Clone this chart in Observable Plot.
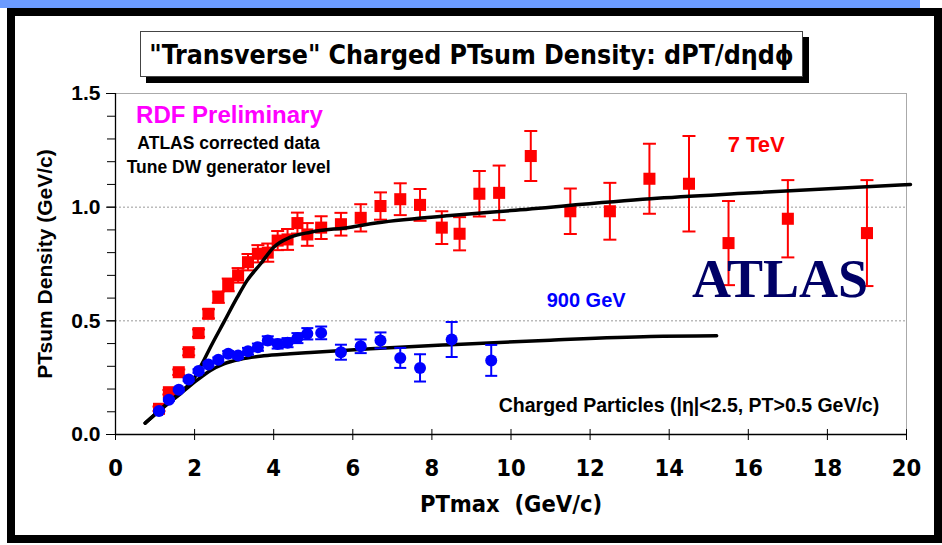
<!DOCTYPE html>
<html><head><meta charset="utf-8">
<script src="https://cdn.jsdelivr.net/npm/d3@7"></script>
<script src="https://cdn.jsdelivr.net/npm/@observablehq/plot@0.6"></script>
<style>
body{margin:0;background:#fff;}
#wrap{position:relative;width:942px;height:545px;overflow:hidden;background:#fff;}
#band{position:absolute;left:0;top:0;width:920px;height:8px;background:#6b9bff;}
#frame{position:absolute;left:7px;top:8px;width:935px;height:535px;border:8px solid #000;box-sizing:border-box;}
#chart{position:absolute;left:0;top:0;}
#title{position:absolute;left:140px;top:31px;width:663px;height:46px;box-sizing:border-box;border:1px solid #444;background:#fff;box-shadow:6px 6px 0 #000;font:bold 26.5px "Liberation Sans Narrow","Arial Narrow","DejaVu Sans Condensed",sans-serif;display:flex;align-items:center;justify-content:center;white-space:nowrap;}
</style></head>
<body><div id="wrap"><div id="band"></div><div id="frame"></div><div id="chart"></div><div id="title">"Transverse" Charged PTsum Density: dPT/dηdϕ</div></div>
<script>
// ---- data ----
const xTicks = [0, 2, 4, 6, 8, 10, 12, 14, 16, 18, 20];
const yTicks = [0, 0.5, 1.0, 1.5];
const yMinorTicks = [0, 0.1, 0.2, 0.3, 0.4, 0.5, 0.6, 0.7, 0.8, 0.9, 1.0, 1.1, 1.2, 1.3, 1.4, 1.5];
const gridY = [0.5, 1.0];

// 7 TeV data (red squares)
const tev7X   = [1.1, 1.35, 1.6, 1.85, 2.1, 2.35, 2.6, 2.85, 3.1, 3.35, 3.6, 3.85, 4.1, 4.35, 4.6, 4.85, 5.2, 5.7, 6.2, 6.7, 7.2, 7.7, 8.25, 8.7, 9.2, 9.7, 10.5, 11.5, 12.5, 13.5, 14.5, 15.5, 17, 19];
const tev7Y   = [0.113, 0.186, 0.274, 0.362, 0.446, 0.531, 0.604, 0.658, 0.70, 0.758, 0.795, 0.80, 0.853, 0.858, 0.93, 0.88, 0.91, 0.925, 0.953, 1.005, 1.035, 1.01, 0.91, 0.883, 1.059, 1.063, 1.225, 0.982, 0.982, 1.125, 1.103, 0.842, 0.949, 0.886];
const tev7Err = [0.01, 0.01, 0.012, 0.014, 0.016, 0.02, 0.025, 0.028, 0.032, 0.036, 0.038, 0.04, 0.042, 0.046, 0.046, 0.05, 0.05, 0.05, 0.06, 0.06, 0.07, 0.07, 0.072, 0.073, 0.10, 0.12, 0.11, 0.10, 0.125, 0.154, 0.21, 0.185, 0.17, 0.233];

// 900 GeV data (blue circles)
const gev900X   = [1.1, 1.35, 1.6, 1.85, 2.1, 2.35, 2.6, 2.85, 3.1, 3.35, 3.6, 3.85, 4.1, 4.35, 4.6, 4.85, 5.2, 5.7, 6.2, 6.7, 7.2, 7.7, 8.5, 9.5];
const gev900Y   = [0.103, 0.153, 0.197, 0.242, 0.279, 0.308, 0.329, 0.355, 0.348, 0.366, 0.384, 0.414, 0.398, 0.404, 0.424, 0.443, 0.447, 0.362, 0.388, 0.414, 0.337, 0.293, 0.418, 0.326];
const gev900Err = [0.004, 0.005, 0.006, 0.007, 0.008, 0.009, 0.01, 0.012, 0.013, 0.015, 0.016, 0.018, 0.02, 0.02, 0.022, 0.025, 0.028, 0.033, 0.03, 0.035, 0.044, 0.06, 0.077, 0.068];

// Tune DW curves
const dw7X = [0.75, 1.2, 1.6, 2.0, 2.2, 2.4, 2.74, 3.08, 3.33, 3.67, 4.0, 4.42, 4.93, 5.94, 6.45, 8.47, 10, 13.53, 16, 20.1];
const dw7Y = [0.05, 0.12, 0.18, 0.25, 0.315, 0.384, 0.494, 0.604, 0.678, 0.751, 0.824, 0.868, 0.89, 0.912, 0.927, 0.963, 0.985, 1.037, 1.062, 1.10];
const dw900X = [0.75, 1.22, 1.64, 2.07, 2.4, 2.74, 3.16, 3.75, 4.42, 4.93, 6.45, 8.47, 11, 13.53, 15.2];
const dw900Y = [0.05, 0.12, 0.179, 0.24, 0.282, 0.311, 0.331, 0.346, 0.355, 0.361, 0.377, 0.395, 0.415, 0.431, 0.434];

// ---- build ----
const red = tev7X.map((x, i) => ({x, y: tev7Y[i], e: tev7Err[i]}));
const blue = gev900X.map((x, i) => ({x, y: gev900Y[i], e: gev900Err[i]}));
const curve7 = dw7X.map((x, i) => ({x, y: dw7Y[i]}));
const curve900 = dw900X.map((x, i) => ({x, y: dw900Y[i]}));

const arial = '"Liberation Sans", Arial, sans-serif';
const narrow = '"Liberation Sans Narrow","Arial Narrow","DejaVu Sans Condensed",sans-serif';
const capSymbol = {draw(ctx, size) { const r = Math.sqrt(size / Math.PI); ctx.moveTo(-r, 0); ctx.lineTo(r, 0); }};

const notes = [
  {x: 2.88, y: 1.405, text: "RDF Preliminary", fill: "#ff00ff", size: 24, font: arial},
  {x: 2.86, y: 1.28, text: "ATLAS corrected data", fill: "#000", size: 17.5, font: arial},
  {x: 2.86, y: 1.175, text: "Tune DW generator level", fill: "#000", size: 17.5, font: arial},
  {x: 16.2, y: 1.275, text: "7 TeV", fill: "#ff0000", size: 22, font: arial},
  {x: 11.9, y: 0.59, text: "900 GeV", fill: "#0000ff", size: 20, font: arial},
  {x: 14.5, y: 0.128, text: "Charged Particles (|η|<2.5, PT>0.5 GeV/c)", fill: "#000", size: 19.5, font: arial}
];

const errMarks = (data, color, cap) => [
  Plot.ruleX(data, {x: "x", y1: d => d.y - d.e, y2: d => d.y + d.e, stroke: color, strokeWidth: 2}),
  Plot.dot(data, {x: "x", y: d => d.y + d.e, symbol: capSymbol, r: cap, stroke: color, strokeWidth: 2, fill: "none"}),
  Plot.dot(data, {x: "x", y: d => d.y - d.e, symbol: capSymbol, r: cap, stroke: color, strokeWidth: 2, fill: "none"})
];

const chart = Plot.plot({
  width: 942, height: 545,
  marginLeft: 115, marginRight: 36, marginTop: 93, marginBottom: 111,
  style: {background: "transparent", overflow: "visible", color: "#000"},
  x: {domain: [0, 20]},
  y: {domain: [0, 1.5]},
  marks: [
    Plot.ruleY(gridY, {stroke: "#999", strokeDasharray: "2,2", strokeWidth: 1}),
    Plot.frame({stroke: "#aaa"}),
    Plot.axisY({ticks: yMinorTicks, tickSize: 8, fill: "none", label: null}),
    Plot.axisY({ticks: yTicks, tickSize: 9, tickPadding: 6, tickFormat: d3.format(".1f"), label: null, fontSize: 21, fontWeight: "bold", fontFamily: arial}),
    Plot.axisX({ticks: xTicks, tickSize: 6, tickPadding: 19, label: null, fontSize: 23.5, fontWeight: "bold", fontFamily: narrow}),
    Plot.ruleX(xTicks, {y1: 0, y2: 0.022, stroke: "#000"}),
    Plot.ruleX([0], {stroke: "#000", strokeWidth: 1.3}),
    Plot.ruleY([0], {stroke: "#000", strokeWidth: 1.3}),
    Plot.text(["PTsum Density (GeV/c)"], {frameAnchor: "left", textAnchor: "middle", dx: -70, rotate: -90, fontSize: 21, fontWeight: "bold", fontFamily: arial, fill: "#000"}),
    Plot.text(["PTmax\u00a0\u00a0(GeV/c)"], {frameAnchor: "bottom", dy: 77, fontSize: 23.5, fontWeight: "bold", fontFamily: narrow, fill: "#000"}),
    ...errMarks(red, "#ff0000", 6.5),
    Plot.dot(red, {x: "x", y: "y", symbol: "square", r: 6.8, fill: "#ff0000"}),
    Plot.line(curve7, {x: "x", y: "y", curve: "monotone-x", stroke: "#000", strokeWidth: 3.5}),
    Plot.line(curve900, {x: "x", y: "y", curve: "monotone-x", stroke: "#000", strokeWidth: 3.5}),
    ...errMarks(blue, "#0000ff", 6),
    Plot.dot(blue, {x: "x", y: "y", r: 6, fill: "#0000ff"}),
    ...notes.map(n => Plot.text([n], {x: "x", y: "y", text: "text", fill: n.fill, fontSize: n.size, fontWeight: "bold", fontFamily: n.font})),
    Plot.text(["ATLAS"], {x: 16.8, y: 0.68, fontSize: 54, fontWeight: "bold", fontFamily: '"Liberation Serif","Times New Roman",serif', fill: "#000066"})
  ]
});
document.getElementById("chart").appendChild(chart);
</script>
</body></html>
